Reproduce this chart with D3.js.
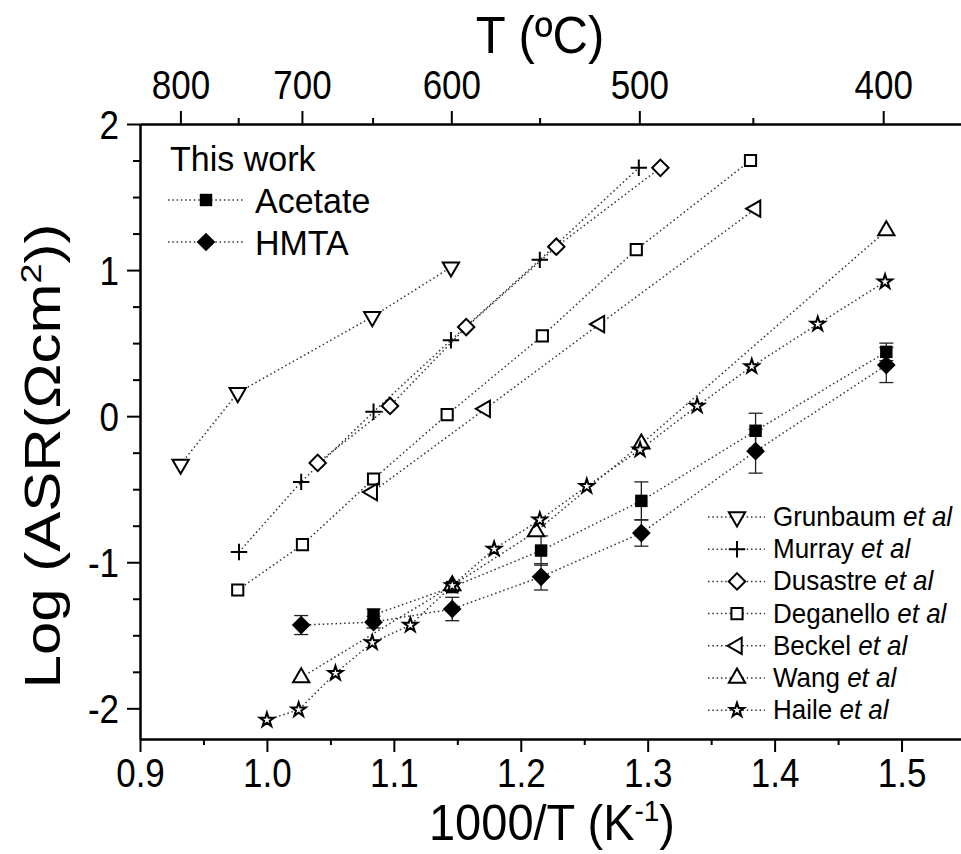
<!DOCTYPE html>
<html>
<head>
<meta charset="utf-8">
<script src="https://cdn.jsdelivr.net/npm/d3@7"></script>
<style>
  body { margin: 0; background: #fff; }
  svg text { font-family: "Liberation Sans", Arial, sans-serif; fill: #000; }
</style>
</head>
<body>
<div id="vis"></div>
<script>
// data, x = 1000/T (K^-1), y = log ASR
const grunbaumX = [0.932, 0.977, 1.083, 1.145]
const grunbaumY = [-0.33, 0.16, 0.68, 1.02]
const murrayX = [0.978, 1.027, 1.084, 1.145, 1.215, 1.293]
const murrayY = [-0.93, -0.45, 0.03, 0.52, 1.07, 1.70]
const dusastreX = [1.040, 1.097, 1.157, 1.228, 1.310]
const dusastreY = [-0.32, 0.07, 0.61, 1.16, 1.70]
const deganelloX = [0.977, 1.028, 1.084, 1.142, 1.217, 1.291, 1.381]
const deganelloY = [-1.19, -0.88, -0.43, 0.01, 0.55, 1.14, 1.75]
const beckelX = [1.083, 1.172, 1.262, 1.385]
const beckelY = [-0.52, 0.05, 0.63, 1.42]
const wangX = [1.027, 1.146, 1.212, 1.295, 1.488]
const wangY = [-1.79, -1.16, -0.79, -0.19, 1.27]
const haileX = [1.000, 1.025, 1.054, 1.083, 1.113, 1.146, 1.179, 1.215, 1.252, 1.294, 1.339, 1.382, 1.434, 1.487]
const haileY = [-2.08, -2.01, -1.76, -1.55, -1.43, -1.16, -0.91, -0.71, -0.48, -0.23, 0.07, 0.34, 0.63, 0.92]

const acetateX = [1.084, 1.146, 1.216, 1.295, 1.385, 1.488]
const acetateY = [-1.36, -1.17, -0.92, -0.58, -0.10, 0.44]
const acetateErr = [0.04, 0.03, 0.10, 0.13, 0.12, 0.06]
const hmtaX = [1.027, 1.084, 1.146, 1.216, 1.295, 1.385, 1.488]
const hmtaY = [-1.43, -1.41, -1.32, -1.10, -0.80, -0.24, 0.35]
const hmtaErr = [0.065, 0.04, 0.08, 0.09, 0.09, 0.15, 0.12]

const xTicks = [0.9, 1.0, 1.1, 1.2, 1.3, 1.4, 1.5]
const xMinor = [0.95, 1.05, 1.15, 1.25, 1.35, 1.45, 1.55]
const yTicks = [-2, -1, 0, 1, 2]
const yMinor = [-1.75, -1.5, -1.25, -0.75, -0.5, -0.25, 0.25, 0.5, 0.75, 1.25, 1.5, 1.75]
const tempTicks = [800, 700, 600, 500, 400]
const tempMinor = [750, 650, 550, 450]

const svg = d3.select('#vis').append('svg')
  .attr('width', 961)
  .attr('height', 854)

const x = d3.scaleLinear().domain([0.9, 1.55]).range([140, 965])
const y = d3.scaleLinear().domain([-2.21, 2]).range([739, 124])
const invT = t => 1000 / (t + 273.15)

// text in the figure is a little taller than plain Arial
const stretch = 1.15
function tallText(sel, px, py, s) {
  return sel.attr('x', 0).attr('y', 0)
    .attr('transform', `translate(${px},${py}) scale(1,${s || stretch})`)
}

// thin cross symbol
const symbolPlusThin = {
  draw(ctx, size) {
    const r = Math.sqrt(size) / 2
    ctx.moveTo(-r, 0); ctx.lineTo(r, 0)
    ctx.moveTo(0, -r); ctx.lineTo(0, r)
  }
}

const series = [
  { name: 'Grunbaum', xs: grunbaumX, ys: grunbaumY, type: d3.symbolTriangle, size: 115, rot: 180, fill: 'white' },
  { name: 'Murray', xs: murrayX, ys: murrayY, type: symbolPlusThin, size: 270, rot: 0, fill: 'none' },
  { name: 'Dusastre', xs: dusastreX, ys: dusastreY, type: d3.symbolSquare, size: 135, rot: 45, fill: 'white' },
  { name: 'Deganello', xs: deganelloX, ys: deganelloY, type: d3.symbolSquare, size: 125, rot: 0, fill: 'white' },
  { name: 'Beckel', xs: beckelX, ys: beckelY, type: d3.symbolTriangle, size: 115, rot: -90, fill: 'white' },
  { name: 'Wang', xs: wangX, ys: wangY, type: d3.symbolTriangle, size: 115, rot: 0, fill: 'white' },
  { name: 'Haile', xs: haileX, ys: haileY, type: d3.symbolStar, size: 62, rot: 0, fill: 'white' }
]
const ours = [
  { name: 'Acetate', xs: acetateX, ys: acetateY, err: acetateErr, type: d3.symbolSquare, size: 155, rot: 0 },
  { name: 'HMTA', xs: hmtaX, ys: hmtaY, err: hmtaErr, type: d3.symbolSquare, size: 175, rot: 45 }
]

const line = d3.line().x(d => x(d[0])).y(d => y(d[1]))
const pts = s => s.xs.map((v, i) => [v, s.ys[i]])

function dotted(sel) {
  return sel.attr('fill', 'none')
    .attr('stroke', '#333')
    .attr('stroke-width', 1.5)
    .attr('stroke-dasharray', '1.5,2.8')
}

// lines
const gLines = svg.append('g')
ours.concat(series).forEach(s => {
  gLines.append('path').datum(pts(s)).attr('d', line).call(dotted)
})

// error bars for this work
const gErr = svg.append('g').attr('stroke', '#222').attr('stroke-width', 1.3)
ours.forEach(s => {
  s.xs.forEach((v, i) => {
    const cx = x(v), y1 = y(s.ys[i] + s.err[i]), y2 = y(s.ys[i] - s.err[i])
    gErr.append('line').attr('x1', cx).attr('x2', cx).attr('y1', y1).attr('y2', y2)
    gErr.append('line').attr('x1', cx - 7).attr('x2', cx + 7).attr('y1', y1).attr('y2', y1)
    gErr.append('line').attr('x1', cx - 7).attr('x2', cx + 7).attr('y1', y2).attr('y2', y2)
  })
})

// markers
function drawMarker(g, s, cx, cy, filled) {
  g.append('path')
    .attr('d', d3.symbol().type(s.type).size(s.size)())
    .attr('transform', `translate(${cx},${cy}) rotate(${s.rot})`)
    .attr('fill', filled ? '#000' : s.fill)
    .attr('stroke', '#000')
    .attr('stroke-width', filled ? 0 : 2)
}
const gMarks = svg.append('g')
ours.forEach(s => s.xs.forEach((v, i) => drawMarker(gMarks, s, x(v), y(s.ys[i]), true)))
series.forEach(s => s.xs.forEach((v, i) => drawMarker(gMarks, s, x(v), y(s.ys[i]), false)))

// axes
const fontSize = 35
function styleAxis(g) {
  g.select('.domain').attr('stroke-width', 2)
  g.selectAll('.tick line').attr('stroke-width', 2)
  g.selectAll('.tick text').style('font-size', fontSize + 'px')
}
// move tick labels into a stretched transform, keeping their baseline
function stretchTicks(g, base) {
  g.selectAll('.tick text').each(function() {
    const t = d3.select(this)
    t.attr('dy', null).attr('y', 0).attr('x', 0)
      .attr('transform', `translate(${base[0]},${base[1]}) scale(1,${stretch})`)
  })
}

svg.append('g').attr('transform', 'translate(0,739)')
  .call(d3.axisBottom(x).tickValues(xMinor).tickSize(6).tickFormat('').tickSizeOuter(0))
  .call(styleAxis)
svg.append('g').attr('transform', 'translate(0,739)')
  .call(d3.axisBottom(x).tickValues(xTicks).tickSize(13).tickFormat(d => d.toFixed(1)).tickSizeOuter(0))
  .call(styleAxis)
  .call(g => stretchTicks(g, [0, 48]))

svg.append('g').attr('transform', 'translate(0,124)')
  .call(d3.axisTop(x).tickValues(tempMinor.map(invT)).tickSize(6).tickFormat('').tickSizeOuter(0))
  .call(styleAxis)
svg.append('g').attr('transform', 'translate(0,124)')
  .call(d3.axisTop(x).tickValues(tempTicks.map(invT)).tickSize(13)
    .tickFormat(d => Math.round(1000 / d - 273.15)).tickSizeOuter(0))
  .call(styleAxis)
  .call(g => stretchTicks(g, [0, -25]))

svg.append('g').attr('transform', 'translate(140,0)')
  .call(d3.axisLeft(y).tickValues(yMinor).tickSize(7).tickFormat('').tickSizeOuter(0))
  .call(styleAxis)
svg.append('g').attr('transform', 'translate(140,0)')
  .call(d3.axisLeft(y).tickValues(yTicks).tickSize(13).tickFormat(d => String(d)).tickSizeOuter(0))
  .call(styleAxis)
  .call(g => stretchTicks(g, [-21, 14]))

// axis titles
svg.append('text')
  .attr('text-anchor', 'middle')
  .style('font-size', '49px')
  .text('T (ºC)')
  .call(tallText, 540, 53, 1.05)

const xt = svg.append('text')
  .attr('text-anchor', 'middle')
  .style('font-size', '47px')
  .call(tallText, 552, 840, 1.08)
xt.append('tspan').text('1000/T (K')
xt.append('tspan').attr('dy', -18).style('font-size', '28px').text('-1')
xt.append('tspan').attr('dy', 18).text(')')

const yt = svg.append('text')
  .attr('transform', 'translate(60,456) rotate(-90) scale(1.2,1)')
  .attr('text-anchor', 'middle')
  .style('font-size', '50px')
yt.append('tspan').text('Log (ASR(Ωcm')
yt.append('tspan').attr('dy', -19).style('font-size', '30px').text('2')
yt.append('tspan').attr('dy', 19).text('))')

// legend, this work
svg.append('text').style('font-size', '34px').text('This work').call(tallText, 170, 171, 1.05)
ours.forEach((s, i) => {
  const cy = 200 + i * 42
  svg.append('line').attr('x1', 168).attr('x2', 243).attr('y1', cy).attr('y2', cy).call(dotted)
  drawMarker(svg, s, 206, cy, true)
  svg.append('text').style('font-size', '34px').text(s.name).call(tallText, 255, cy + 13, 1.05)
})

// legend, literature
series.forEach((s, i) => {
  const cy = 517 + i * 32.2
  svg.append('line').attr('x1', 708).attr('x2', 765).attr('y1', cy).attr('y2', cy).call(dotted)
  drawMarker(svg, s, 737, cy, false)
  const t = svg.append('text').style('font-size', '26px').call(tallText, 773, cy + 9, 1.05)
  t.append('tspan').text(s.name + ' ')
  t.append('tspan').style('font-style', 'italic').text('et al')
})
</script>
</body>
</html>
